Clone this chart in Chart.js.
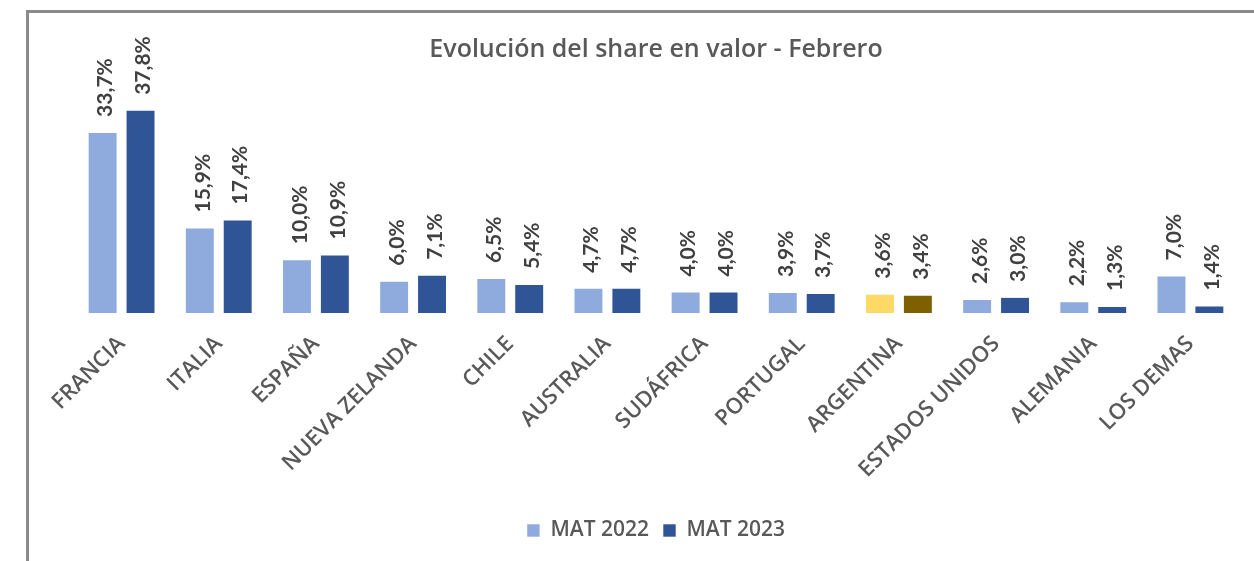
<!DOCTYPE html>
<html>
<head>
<meta charset="utf-8">
<script src="https://cdn.jsdelivr.net/npm/chart.js@4.4.0/dist/chart.umd.min.js"></script>
<style>
  html, body { margin: 0; padding: 0; background: #fff; }
  body { width: 1254px; height: 561px; overflow: hidden; position: relative; }
  #frame {
    position: absolute; left: 26px; top: 10px; width: 1240px; height: 560px;
    border-left: 3px solid #8a8a8a; border-top: 3px solid #8a8a8a;
  }
  #shareChart { position: absolute; left: 29px; top: 13px; }
</style>
</head>
<body>
<div id="frame"></div>
<canvas id="shareChart" width="1225" height="548"></canvas>
<script>
const categories = ["FRANCIA", "ITALIA", "ESPAÑA", "NUEVA ZELANDA", "CHILE", "AUSTRALIA",
  "SUDÁFRICA", "PORTUGAL", "ARGENTINA", "ESTADOS UNIDOS", "ALEMANIA", "LOS DEMAS"]
const mat2022 = [33.7, 15.9, 10.0, 6.0, 6.5, 4.7, 4.0, 3.9, 3.6, 2.6, 2.2, 7.0]
const mat2023 = [37.8, 17.4, 10.9, 7.1, 5.4, 4.7, 4.0, 3.7, 3.4, 3.0, 1.3, 1.4]
const seriesNames = ["MAT 2022", "MAT 2023"]

const highlight = "ARGENTINA"
const highlightIdx = categories.indexOf(highlight)

// argentina gets its own yellow / brown pair
function barColor(base, special) {
  return (ctx) => ctx.dataIndex === highlightIdx ? special : base
}

// rotated value labels above each bar, "33,7%" style
const valueLabels = {
  id: "valueLabels",
  afterDatasetsDraw(chart) {
    const ctx = chart.ctx
    ctx.save()
    ctx.font = "bold 21px Lato"
    ctx.fillStyle = "#404040"
    ctx.textAlign = "left"
    ctx.textBaseline = "middle"
    chart.data.datasets.forEach((ds, i) => {
      const meta = chart.getDatasetMeta(i)
      meta.data.forEach((bar, j) => {
        const txt = ds.data[j].toFixed(1).replace(".", ",") + "%"
        ctx.save()
        ctx.translate(bar.x + 3, bar.y - 15)
        ctx.rotate(-Math.PI / 2)
        ctx.fillText(txt, 0, 0)
        ctx.restore()
      })
    })
    ctx.restore()
  }
}

new Chart(document.getElementById("shareChart"), {
  type: "bar",
  data: {
    labels: categories,
    datasets: [
      {
        label: seriesNames[0],
        data: mat2022,
        backgroundColor: barColor("#8FAADC", "#FFD966"),
        borderColor: "rgba(255,255,255,0.6)",
        borderWidth: 1
      },
      {
        label: seriesNames[1],
        data: mat2023,
        backgroundColor: barColor("#2F5597", "#7F6000"),
        borderColor: "rgba(255,255,255,0.6)",
        borderWidth: 1
      }
    ]
  },
  options: {
    responsive: false,
    animation: false,
    categoryPercentage: 0.78,
    barPercentage: 0.79,
    layout: { padding: { left: 44, right: 15, top: 0, bottom: 10 } },
    plugins: {
      title: {
        display: true,
        text: "Evolución del share en valor - Febrero",
        color: "#595959",
        font: { family: "Open Sans", size: 25, weight: "600" },
        padding: { top: 22, bottom: 4 }
      },
      legend: {
        position: "bottom",
        labels: {
          color: "#595959",
          font: { family: "Open Sans", size: 21, weight: "600" },
          boxWidth: 13,
          boxHeight: 13,
          padding: 14
        }
      },
      tooltip: { enabled: false }
    },
    scales: {
      x: {
        grid: { display: false },
        border: { display: false },
        ticks: {
          color: "#595959",
          font: { family: "Open Sans", size: 22, weight: "600" },
          maxRotation: 45,
          minRotation: 45,
          autoSkip: false,
          padding: 10
        },
        afterFit(scale) {
          scale.paddingLeft = 0
          scale.paddingRight = 0
          scale.height = 193
        }
      },
      y: {
        display: false,
        min: 0,
        max: 45.4
      }
    }
  },
  plugins: [valueLabels]
})
</script>
</body>
</html>
